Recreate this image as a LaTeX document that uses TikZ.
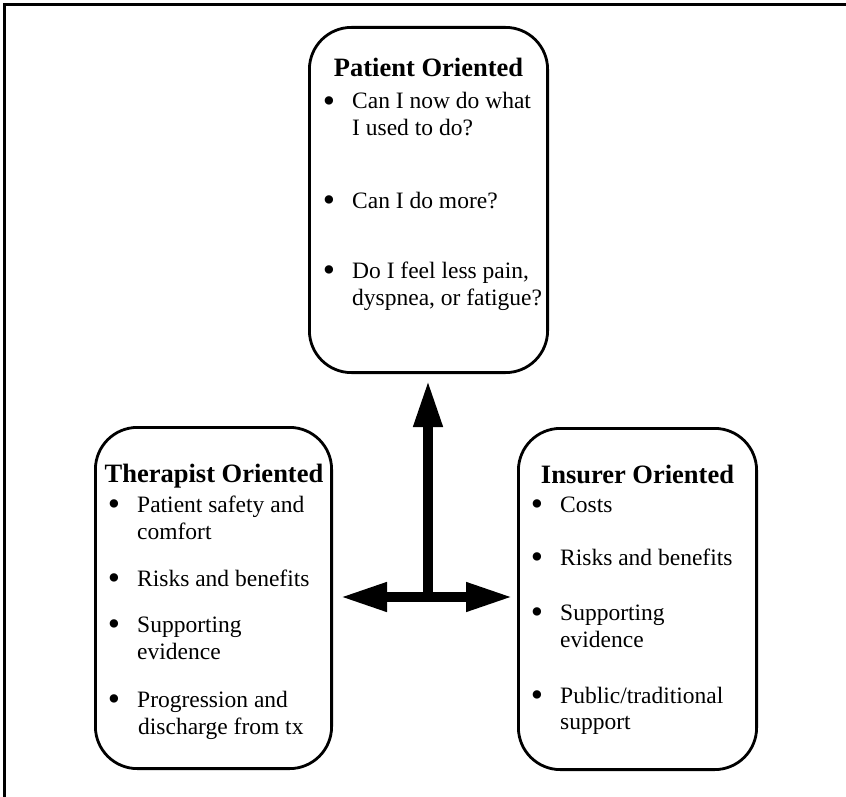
\documentclass[tikz,border=0pt]{standalone}
\usepackage{fontspec}
\setmainfont{Liberation Serif}
\usetikzlibrary{arrows.meta}
\newcommand\bul{\makebox[0pt][r]{\raisebox{-3.2pt}{\fontsize{35}{35}\selectfont\textbullet}\hspace{17pt}}}
\begin{document}
\begin{tikzpicture}[x=1pt,y=-1pt,
  box/.style={draw, line width=2.8pt, rounded corners=42pt, inner sep=0pt},
  txt/.style={anchor=base west, inner sep=0pt, font=\fontsize{23.5}{27}\selectfont},
  ttl/.style={anchor=base, inner sep=0pt, font=\fontsize{26.5}{30}\selectfont\bfseries},
  bigarrow/.style={line width=10pt, {Triangle[length=47pt,width=27pt]}-{Triangle[length=47pt,width=27pt]}},
  uparrow/.style={line width=10pt, -{Triangle[length=47pt,width=27pt]}},
  frame/.style={line width=2.7pt}]
\useasboundingbox (0,0) rectangle (846,797);
\draw[frame] (846,4.7) -- (4.7,4.7) -- (4.7,797);

% boxes
\node[box, minimum width=238.2pt, minimum height=345.2pt] (pat) at (428.5,200) {};
\node[box, minimum width=236.2pt, minimum height=341.2pt] (ther) at (213.5,598) {};
\node[box, minimum width=238.2pt, minimum height=341.2pt] (ins) at (637.5,599) {};

% patient
\node[ttl] (patT) at (428.5,77) {Patient Oriented};
\node[txt] (p1) at (352,109) {\bul Can I now do what};
\node[txt] (p1b) at (352,136) {I used to do?};
\node[txt] (p2) at (352,208) {\bul Can I do more?};
\node[txt] (p3) at (352,278) {\bul Do I feel less pain,};
\node[txt] (p3b) at (352,305) {dyspnea, or fatigue?};

% therapist
\node[ttl] (thT) at (214,482) {Therapist Oriented};
\node[txt] (t1) at (137,512) {\bul Patient safety and};
\node[txt] (t1b) at (137,539) {comfort};
\node[txt] (t2) at (137,586) {\bul Risks and benefits};
\node[txt] (t3) at (137,632) {\bul Supporting};
\node[txt] (t3b) at (137,659) {evidence};
\node[txt] (t4) at (137,707) {\bul Progression and};
\node[txt] (t4b) at (138,734) {discharge from tx};

% insurer
\node[ttl] (inT) at (637.5,483) {Insurer Oriented};
\node[txt] (i1) at (560,512) {\bul Costs};
\node[txt] (i2) at (560,565) {\bul Risks and benefits};
\node[txt] (i3) at (560,620) {\bul Supporting};
\node[txt] (i3b) at (560,647) {evidence};
\node[txt] (i4) at (560,703) {\bul Public/traditional};
\node[txt] (i4b) at (560,729) {support};

% arrows
\coordinate (hub) at (428,597);
\coordinate (uptip) at (428,380);
\coordinate (ltip) at (340,597);
\coordinate (rtip) at (513,597);
\draw[uparrow] (hub) -- (uptip);
\draw[bigarrow] (ltip) -- (rtip);
\end{tikzpicture}
\end{document}
